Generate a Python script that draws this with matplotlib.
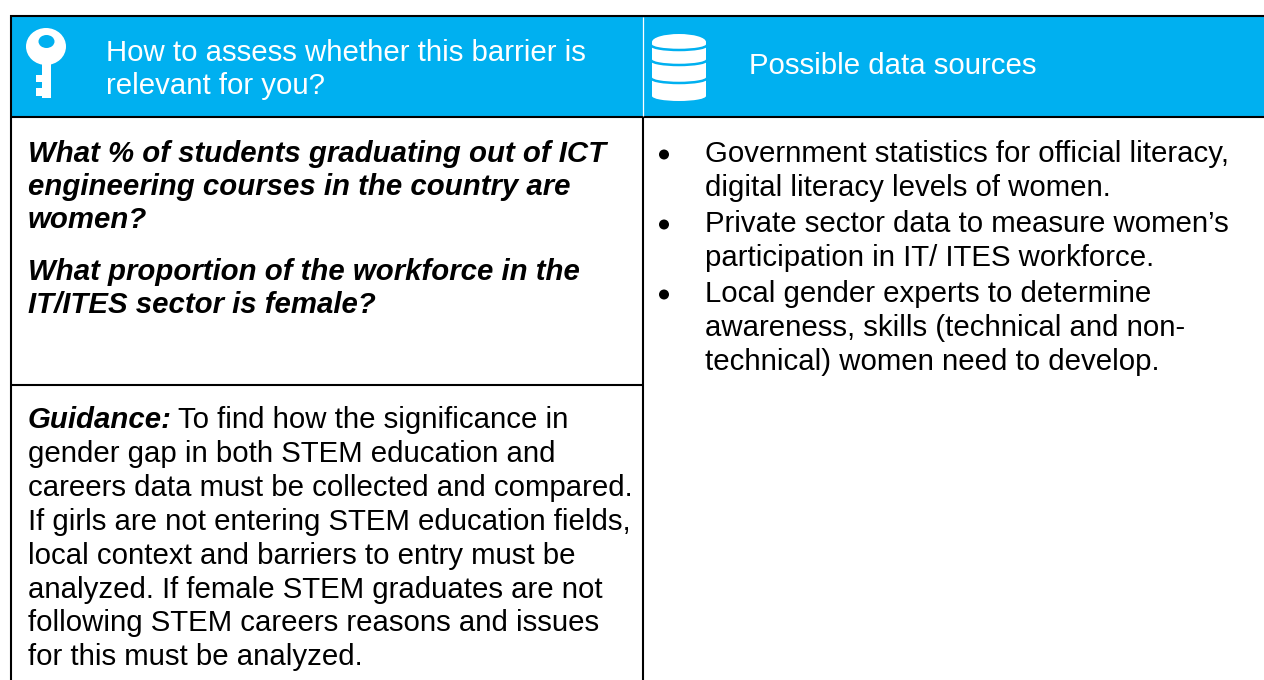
import matplotlib
matplotlib.use("Agg")
import matplotlib.pyplot as plt
from matplotlib.patches import Rectangle, Ellipse, Arc

plt.rcParams['font.family'] = ['Liberation Sans', 'DejaVu Sans']

header_left = ["How to assess whether this barrier is", "relevant for you?"]
header_right = ["Possible data sources"]
questions = [
    (161.5, "What % of students graduating out of ICT"),
    (195, "engineering courses in the country are"),
    (228.5, "women?"),
    (280, "What proportion of the workforce in the"),
    (313, "IT/ITES sector is female?"),
]
guidance = [
    "gender gap in both STEM education and",
    "careers data must be collected and compared.",
    "If girls are not entering STEM education fields,",
    "local context and barriers to entry must be",
    "analyzed. If female STEM graduates are not",
    "following STEM careers reasons and issues",
    "for this must be analyzed.",
]
sources = [
    (True, 162, "Government statistics for official literacy,"),
    (False, 195.5, "digital literacy levels of women."),
    (True, 232, "Private sector data to measure women\u2019s"),
    (False, 266, "participation in IT/ ITES workforce."),
    (True, 302, "Local gender experts to determine"),
    (False, 336, "awareness, skills (technical and non-"),
    (False, 370, "technical) women need to develop."),
]

BLUE = "#00B0F0"
FS = 21.2
LS = 33.9
fig = plt.figure(figsize=(12.64, 6.8), dpi=100)
ax = fig.add_axes([0, 0, 1, 1])
ax.set_xlim(0, 1264)
ax.set_ylim(680, 0)
ax.axis("off")

ax.add_patch(Rectangle((11, 16), 1253, 100, fc=BLUE, ec="none"))
# key icon
ax.add_patch(Ellipse((46, 46.5), 40, 37, fc="white", ec="none"))
ax.add_patch(Ellipse((46.5, 41.5), 16, 13, fc=BLUE, ec="none"))
ax.add_patch(Rectangle((42, 60), 9, 38, fc="white", ec="none"))
ax.add_patch(Rectangle((36, 75), 6, 7, fc="white", ec="none"))
ax.add_patch(Rectangle((36, 88), 6, 8, fc="white", ec="none"))
# database icon
ax.add_patch(Rectangle((652, 42), 54, 54, fc="white", ec="none"))
ax.add_patch(Ellipse((679, 96), 54, 10, fc="white", ec="none"))
ax.add_patch(Ellipse((679, 42), 54, 16, fc="white", ec="none"))
for yy in (45, 60, 78):
    ax.add_patch(Arc((679, yy), 56, 10, theta1=0, theta2=180, color=BLUE, lw=1.8))

lines = [((11, 11), (15, 680)), ((642.7, 642.7), (116, 680)),
         ((10, 1264), (15.7, 15.7)), ((10, 1264), (116.7, 116.7)), ((11, 643), (384.7, 384.7))]
for xs, ys in lines:
    ax.plot(xs, ys, color="black", lw=1.5, solid_capstyle="butt")
ax.plot((642.5, 642.5), (16.5, 116), color="white", lw=0.9, solid_capstyle="butt")

for y, t in zip((61, 94), header_left):
    ax.text(106, y, t, color="white", fontsize=FS, va="baseline", ha="left")
ax.text(749, 74, header_right[0], color="white", fontsize=FS, va="baseline", ha="left")

for y, t in questions:
    ax.text(28, y, t, color="black", fontsize=FS, style="italic", weight="bold", va="baseline", ha="left")

gy = 428
ax.text(28, gy, "Guidance:", color="black", fontsize=FS, style="italic", weight="bold", va="baseline", ha="left")
ax.text(178, gy, "To find how the significance in", color="black", fontsize=FS, va="baseline", ha="left")
for i, t in enumerate(guidance):
    ax.text(28, gy + LS * (i + 1), t, color="black", fontsize=FS, va="baseline", ha="left")

for bullet, y, t in sources:
    if bullet:
        ax.add_patch(Ellipse((664, y - 7.5), 10, 10, fc="black", ec="none"))
    ax.text(705, y, t, color="black", fontsize=FS, va="baseline", ha="left")

fig.savefig("out.png", dpi=100)
